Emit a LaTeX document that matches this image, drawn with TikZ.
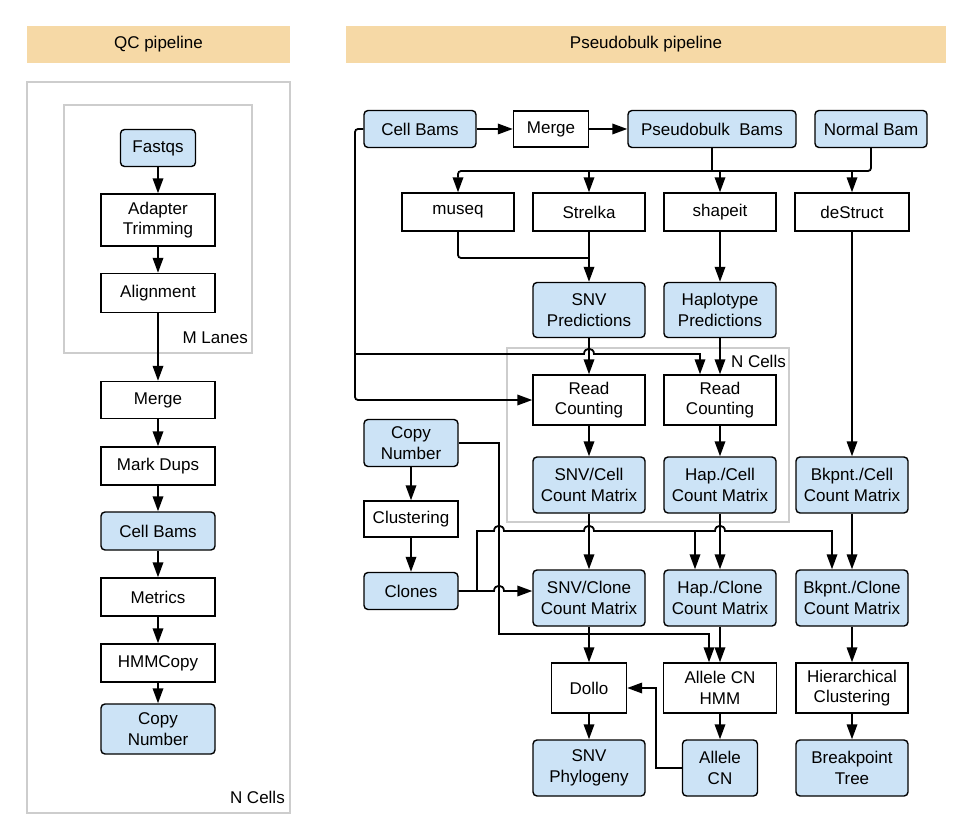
\documentclass[tikz,border=0pt]{standalone}
\usepackage{fontspec}
\setmainfont{Liberation Sans}
\usetikzlibrary{arrows.meta,calc}
\definecolor{cellblue}{RGB}{204,227,246}
\definecolor{bandtan}{RGB}{246,217,166}
\definecolor{groupgrey}{RGB}{205,205,205}

\begin{document}
\begin{tikzpicture}[x=1pt,y=-1pt,
  lab/.style={font=\fontsize{17}{20.5}\selectfont},
  stepbox/.style={draw=black, line width=1.4pt, fill=white, inner sep=0pt, align=center, lab},
  databox/.style={stepbox, fill=cellblue, rounded corners=4pt},
  sz/.style 2 args={minimum width=#1pt, minimum height=#2pt},
  band/.style={fill=bandtan, draw=none, inner sep=0pt, lab},
  group/.style={draw=groupgrey, line width=1.6pt},
  conn/.style={line width=1.8pt},
  arr/.style={conn, -{Triangle[length=15pt,width=10.5pt]}},
  hop/.style={insert path={-- ([xshift=-5pt]#1) .. controls ([xshift=-5pt,yshift=7pt]#1) and ([xshift=5pt,yshift=7pt]#1) .. ([xshift=5pt]#1)}},
]
\useasboundingbox (0,0) rectangle (964,837);

% ---------- headers ----------
\node[band, minimum width=263pt, minimum height=37pt] (qchead) at (158.5,44.5) {QC pipeline};
\node[band, minimum width=600pt, minimum height=37pt] (pbhead) at (646,44.5) {Pseudobulk pipeline};

% ---------- grouping frames ----------
\draw[group] (27,82) rectangle (290,813);
\draw[group] (64,105) rectangle (252,353);
\draw[group] (507,348) rectangle (789,522);
\node[lab, anchor=east, inner sep=0pt] (ncellsL) at (285,797) {N Cells};
\node[lab, anchor=east, inner sep=0pt] (mlanes) at (248,338) {M Lanes};
\node[lab, anchor=east, inner sep=0pt] (ncellsR) at (786,361) {N Cells};

% ---------- QC pipeline ----------
\node[databox, sz={75}{37}]  (fastq)   at (158,148) {Fastqs};
\node[stepbox, sz={114}{52}] (adapt)   at (158,220) {Adapter\\Trimming};
\node[stepbox, sz={114}{39}] (align)   at (158,293) {Alignment};
\node[stepbox, sz={114}{37}] (lmerge)  at (158,400) {Merge};
\node[stepbox, sz={114}{38}] (mdups)   at (158,466) {Mark Dups};
\node[databox, sz={114}{38}] (lcbams)  at (158,531) {Cell Bams};
\node[stepbox, sz={114}{38}] (metrics) at (158,597) {Metrics};
\node[stepbox, sz={114}{38}] (hmm)     at (158,663) {HMMCopy};
\node[databox, sz={114}{50}] (lcn)     at (158,729) {Copy\\Number};

\foreach \a/\b in {fastq/adapt, adapt/align, align/lmerge, lmerge/mdups,
                   mdups/lcbams, lcbams/metrics, metrics/hmm, hmm/lcn}
  \draw[arr] (\a) -- (\b);

% ---------- Pseudobulk pipeline ----------
\node[databox, sz={112}{37}] (cbams)    at (420,129) {Cell Bams};
\node[stepbox, sz={75}{36}]  (rmerge)   at (551,129) {Merge};
\node[databox, sz={168}{37}] (pbams)    at (712,129) {Pseudobulk\ \ Bams};
\node[databox, sz={112}{37}] (normal)   at (871,129) {Normal Bam};

\node[stepbox, sz={112}{38}] (museq)    at (458,212) {museq};
\node[stepbox, sz={112}{38}] (strelka)  at (589,212) {Strelka};
\node[stepbox, sz={112}{38}] (shapeit)  at (720,212) {shapeit};
\node[stepbox, sz={114}{38}] (destruct) at (852,212) {deStruct};

\node[databox, sz={112}{55}] (snvpred)  at (589,310) {SNV\\Predictions};
\node[databox, sz={112}{55}] (happred)  at (720,310) {Haplotype\\Predictions};

\node[stepbox, sz={112}{50}] (rc1)      at (589,400) {Read\\Counting};
\node[stepbox, sz={112}{50}] (rc2)      at (720,400) {Read\\Counting};

\node[databox, sz={112}{56}] (snvcell)  at (589,485) {SNV/Cell\\Count Matrix};
\node[databox, sz={112}{56}] (hapcell)  at (720,485) {Hap./Cell\\Count Matrix};
\node[databox, sz={112}{56}] (bkcell)   at (852,485) {Bkpnt./Cell\\Count Matrix};

\node[databox, sz={94}{47}]  (cn)       at (411,443) {Copy\\Number};
\node[stepbox, sz={94}{36}]  (clust)    at (411,519) {Clustering};
\node[databox, sz={94}{37}]  (clones)   at (411,591) {Clones};

\node[databox, sz={112}{56}] (snvclone) at (589,598) {SNV/Clone\\Count Matrix};
\node[databox, sz={112}{56}] (hapclone) at (720,598) {Hap./Clone\\Count Matrix};
\node[databox, sz={112}{56}] (bkclone)  at (852,598) {Bkpnt./Clone\\Count Matrix};

\node[stepbox, sz={75}{50}]  (dollo)    at (589,688) {Dollo};
\node[stepbox, sz={113}{50}] (cnhmm)    at (720,688) {Allele CN\\HMM};
\node[stepbox, sz={112}{50}] (hier)     at (852,688) {Hierarchical\\Clustering};

\node[databox, sz={112}{56}] (snvphy)   at (589,768) {SNV\\Phylogeny};
\node[databox, sz={75}{56}]  (allelecn) at (720,768) {Allele\\CN};
\node[databox, sz={112}{56}] (bptree)   at (852,768) {Breakpoint\\Tree};

% routing levels and lanes
\coordinate (fan)   at (0,171);
\coordinate (mjoin) at (0,258);
\coordinate (cbx)   at (355,0);
\coordinate (cbfeed) at (0,354);
\coordinate (rc2in) at (700,0);
\coordinate (clx)   at (477,0);
\coordinate (cly)   at (0,531);
\coordinate (cnx)   at (499,0);
\coordinate (hapin) at (695,0);
\coordinate (bkin)  at (832,0);
\coordinate (cny)   at (0,634);
\coordinate (hmmin) at (709,0);
\coordinate (acx)   at (656,0);

% crossing points where a line hops over another
\path (snvpred.south |- cbfeed) coordinate (hopA)
      (cnx |- cly)              coordinate (hopB)
      (snvcell.south |- cly)    coordinate (hopC)
      (hapcell.south |- cly)    coordinate (hopD)
      (cnx |- clones.east)      coordinate (hopE);

% bams
\draw[arr] (cbams.east) -- (rmerge.west);
\draw[arr] (rmerge.east) -- (pbams.west);
\draw[conn] (pbams.south) -- (pbams.south |- fan);
\draw[arr, rounded corners=3pt] (normal.south) -- (normal.south |- fan)
     -- (museq.north |- fan) -- (museq.north);
\foreach \n in {strelka, shapeit, destruct}
  \draw[arr] (\n.north |- fan) -- (\n.north);

% callers
\draw[conn, rounded corners=3pt] (museq.south) -- (museq.south |- mjoin) -- (strelka.south |- mjoin);
\draw[arr] (strelka) -- (snvpred);
\draw[arr] (shapeit) -- (happred);
\draw[arr] (destruct) -- (bkcell);
\draw[arr] (snvpred) -- (rc1);
\draw[arr] (happred) -- (rc2);

% cell bams into read counting
\draw[arr, rounded corners=3pt] (cbams.west) -- (cbx |- cbams.west) -- (cbx |- rc1.west) -- (rc1.west);
\draw[arr] (cbx |- cbfeed) [hop=hopA] -- (rc2in |- cbfeed) -- (rc2in |- rc2.north);

% per-cell matrices
\draw[arr] (rc1) -- (snvcell);
\draw[arr] (rc2) -- (hapcell);
\draw[arr] (snvcell) -- (snvclone);
\draw[arr] (hapcell) -- (hapclone);
\draw[arr] (bkcell) -- (bkclone);

% copy number and clones
\draw[arr] (cn) -- (clust);
\draw[arr] (clust) -- (clones);
\draw[arr] (clones.east) -- (clx |- clones.east) -- (clx |- cly) [hop=hopB] [hop=hopC]
     -- (hapin |- cly) [hop=hopD] -- (bkin |- cly) -- (bkin |- bkclone.north);
\draw[arr] (hapin |- cly) -- (hapin |- hapclone.north);
\draw[arr] (clones.east) [hop=hopE] -- (snvclone.west |- clones.east);
\draw[arr] (cn.east) -- (cnx |- cn.east) -- (cnx |- cny) -- (hmmin |- cny) -- (hmmin |- cnhmm.north);

% downstream analyses
\draw[arr] (hapclone) -- (cnhmm);
\draw[arr] (snvclone) -- (dollo);
\draw[arr] (dollo) -- (snvphy);
\draw[arr] (cnhmm) -- (allelecn);
\draw[arr] (allelecn.west) -- (acx |- allelecn.west) -- (acx |- dollo.east) -- (dollo.east);
\draw[arr] (bkclone) -- (hier);
\draw[arr] (hier) -- (bptree);

\end{tikzpicture}
\end{document}
